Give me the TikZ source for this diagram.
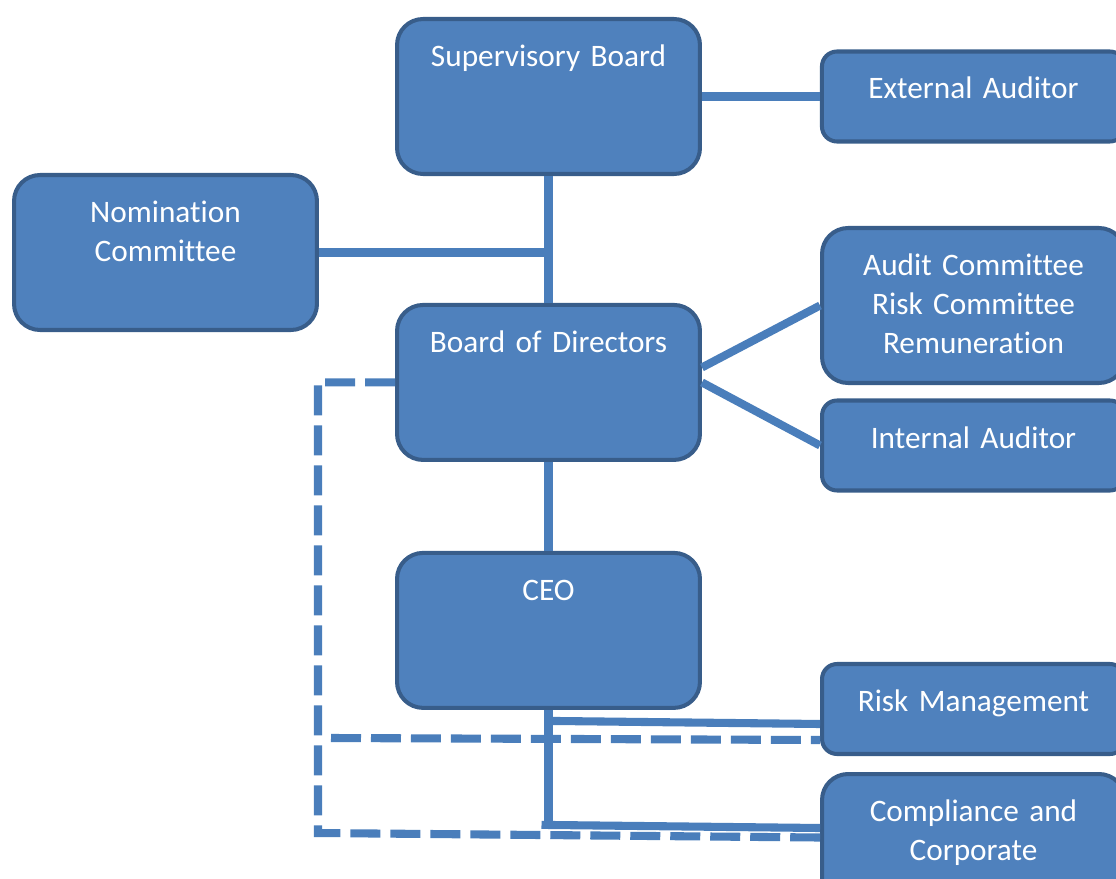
\documentclass[tikz,border=0pt]{standalone}
\usepackage{fontspec}
\setmainfont[Ligatures=NoCommon]{Carlito}
\usetikzlibrary{positioning}
\definecolor{boxfill}{HTML}{4F81BD}
\definecolor{boxborder}{HTML}{385D8A}
\definecolor{linkblue}{HTML}{4A7EBB}
\begin{document}
\begin{tikzpicture}[
    x = 0.02cm, y = -0.02cm, % one unit per pixel, y runs down
    node distance = 5cm, % distance between box centres
    font = \fontsize{17.8}{22.2}\selectfont
  ]

  \tikzstyle{box}=[rectangle, draw=boxborder, line width=2.3pt, fill=boxfill,
    text=white, inner sep=0pt, minimum width=6.06cm, text width=5.9cm,
    align=center, text height=0.95cm]
  \tikzstyle{tallbox}=[box, rounded corners=0.52cm, text depth=2.15cm]
  \tikzstyle{flatbox}=[box, rounded corners=0.3cm, text depth=0.85cm]
  \tikzstyle{link}=[draw=linkblue, line width=4.6pt]
  \tikzstyle{dashlink}=[link, dash pattern=on 0.6cm off 0.2cm]

  \path[use as bounding box, clip] (0,0) rectangle (1116,879);

  \node[tallbox] (sb) at (548.5,96.5) {Supervisory Board};
  \node[flatbox] (ext) [right of=sb, node distance=8.5cm] {External Auditor};
  \node[tallbox] (bod) [below of=sb, node distance=5.72cm] {Board of Directors};
  \node[tallbox] (ceo) [below of=bod, node distance=4.96cm] {CEO};
  \node[tallbox] (nom) at (165.5,252.5) {Nomination\\Committee};
  \node[tallbox] (aud) at (973.5,305.5) {Audit Committee\\Risk Committee\\Remuneration};
  \node[flatbox] (int) at (973.5,445.5) {Internal Auditor};
  \node[flatbox] (risk) at (973.5,709) {Risk Management};
  \node[tallbox] (comp) at (973.5,851.5) {Compliance and\\Corporate};

  % solid lines
  \draw[link] (sb) -- (bod);
  \draw[link] (nom.east) -- (nom.east -| sb.south);
  \draw[link] (sb.east) -- (ext.west);
  \draw[link] ([yshift=0.3cm]bod.east) -- (aud.west);
  \draw[link] (bod.east) -- (int.west);
  \draw[link] (bod) -- (ceo);
  \coordinate (split) at ([yshift=-2.3cm]ceo.south);
  \draw[link] (ceo.south) -- (split);
  \draw[link] ([yshift=-0.22cm]ceo.south) -- ([yshift=-0.3cm]risk.west);
  \draw[link] ([xshift=-0.14cm]split) -- ([yshift=0.47cm]comp.west);

  % dashed lines
  \coordinate (bend) at (318,833);
  \coordinate (cut) at (331,738);
  \draw[dashlink] (bod.west) -| (bend) -- ([yshift=0.28cm]comp.west);
  \draw[dashlink] (cut) -- ([yshift=-0.62cm]risk.west);

\end{tikzpicture}
\end{document}
